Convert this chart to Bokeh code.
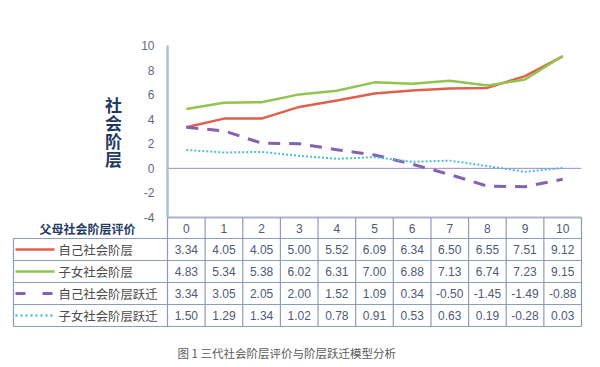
from bokeh.plotting import figure
from bokeh.models import Range1d
from bokeh.core.properties import value
from bokeh.embed import file_html
from bokeh.resources import INLINE

# ---------------- data ----------------
categories = [0, 1, 2, 3, 4, 5, 6, 7, 8, 9, 10]
self_rank = [3.34, 4.05, 4.05, 5.00, 5.52, 6.09, 6.34, 6.50, 6.55, 7.51, 9.12]
child_rank = [4.83, 5.34, 5.38, 6.02, 6.31, 7.00, 6.88, 7.13, 6.74, 7.23, 9.15]
self_mob = [3.34, 3.05, 2.05, 2.00, 1.52, 1.09, 0.34, -0.50, -1.45, -1.49, -0.88]
child_mob = [1.50, 1.29, 1.34, 1.02, 0.78, 0.91, 0.53, 0.63, 0.19, -0.28, 0.03]
series_names = ["自己社会阶层", "子女社会阶层", "自己社会阶层跃迁", "子女社会阶层跃迁"]
y_ticks = [-4, -2, 0, 2, 4, 6, 8, 10]
x_title = "父母社会阶层评价"
y_title = "社会阶层"
caption = "图 1 三代社会阶层评价与阶层跃迁模型分析"

series = [self_rank, child_rank, self_mob, child_mob]

# ---------------- styles ----------------
colors = ["#e0604d", "#92c450", "#8462b0", "#4cbfd6"]
widths = [2.5, 2.5, 3, 2]
dashes = ["solid", "solid", "12 9", "2 2"]
key_dashes = ["solid", "solid", "10 17", "2 3"]
border_c = "#8d9cb8"
axis_c = "#b3bdd1"
num_c = "#4d5a78"
navy = "#1f3b63"
CJK = "Noto Sans CJK SC"
NUM = "Liberation Sans"

W, H = 600, 367
OFF = 0                                  # observed page offset of the canvas
PLOT_L, PLOT_R = 167, 581                # page px of the plot area
PLOT_T, PLOT_B = 45, 217
COLW = (PLOT_R - PLOT_L) / len(categories)
YPX = (PLOT_B - PLOT_T) / (y_ticks[-1] - y_ticks[0])


def px2x(px):
    return (px - PLOT_L) / COLW - 0.5


def py2v(py):
    return y_ticks[0] + (PLOT_B - py) / YPX


p = figure(width=W, height=H,
           x_range=Range1d(px2x(OFF), px2x(OFF + W)),
           y_range=Range1d(py2v(OFF + H), py2v(OFF)),
           output_backend="svg", toolbar_location=None,
           x_axis_location=None, y_axis_location=None, min_border=0)
p.extra_y_ranges = {"tbl": Range1d(OFF + H, OFF)}   # table rows in page px
p.outline_line_color = None
p.xgrid.visible = False
p.ygrid.visible = False
p.background_fill_color = "white"
p.border_fill_color = "white"

x0 = categories[0] - 0.5
x1 = categories[-1] + 0.5

# zero line
p.segment(x0=[x0], x1=[x1], y0=[0], y1=[0], line_color="#9c8ccc", line_width=1)

# series
for vals, c, w, d in zip(series, colors, widths, dashes):
    p.line(categories, vals, line_color=c, line_width=w, line_dash=d)

# axes
p.segment(x0=[x0], x1=[x0], y0=[y_ticks[0]], y1=[y_ticks[-1]], line_color=axis_c, line_width=2.5)
p.segment(x0=[x0], x1=[x1], y0=[y_ticks[0]], y1=[y_ticks[0]], line_color="#a9b4ca", line_width=2)
p.text(x=[x0] * len(y_ticks), y=y_ticks, text=[str(t) for t in y_ticks],
       x_offset=-13, text_align="right", text_baseline="middle",
       text_font=value(NUM), text_font_size="12px", text_color="#5f6b82")

# axis titles
p.text(x=[px2x(113)], y=[131], text=["\n".join(y_title)], y_range_name="tbl",
       text_align="center", text_baseline="middle", text_line_height=0.72,
       text_font=value(CJK), text_font_size="17px", text_font_style="bold",
       text_color=navy)
p.text(x=[px2x(87)], y=[227.5], text=[x_title], y_range_name="tbl",
       text_align="center", text_baseline="middle",
       text_font=value(CJK), text_font_size="12px", text_font_style="bold",
       text_color=navy)

# ---------------- table ----------------
HEAD_T, HEAD_B = 217, 238
ROWH = 22
nrows = len(series_names)
x_left = px2x(13)
row_lines = [HEAD_B + k * ROWH for k in range(nrows + 1)]
p.segment(x0=[x_left] * len(row_lines), x1=[x1] * len(row_lines),
          y0=row_lines, y1=row_lines, line_color=border_c, line_width=1.2, y_range_name="tbl")
col_lines = [c - 0.5 for c in categories] + [x1]
p.segment(x0=col_lines, x1=col_lines, y0=[HEAD_T] * len(col_lines),
          y1=[row_lines[-1]] * len(col_lines), line_color=border_c, line_width=1.2,
          y_range_name="tbl")
p.segment(x0=[x_left], x1=[x_left], y0=[HEAD_B], y1=[row_lines[-1]],
          line_color=border_c, line_width=1.2, y_range_name="tbl")

# header labels
p.text(x=categories, y=[(HEAD_T + HEAD_B) / 2 + 0.5] * len(categories),
       text=[str(c) for c in categories], y_range_name="tbl",
       text_align="center", text_baseline="middle",
       text_font=value(NUM), text_font_size="12px", text_color=num_c)

for i, (name, vals) in enumerate(zip(series_names, series)):
    yc = HEAD_B + (i + 0.5) * ROWH
    p.line([px2x(15), px2x(54)], [yc, yc], line_color=colors[i], y_range_name="tbl",
           line_width=[2.5, 2.5, 3, 2.5][i], line_dash=key_dashes[i])
    p.text(x=[px2x(58)], y=[yc], text=[name], text_align="left", text_baseline="middle",
           text_font=value(CJK), text_font_size="12.4px", text_color="#4a4a4a",
           y_range_name="tbl")
    p.text(x=categories, y=[yc] * len(categories), text=[f"{v:.2f}" for v in vals],
           text_align="center", text_baseline="middle", y_range_name="tbl",
           text_font=value(NUM), text_font_size="12px", text_color=num_c)

p.text(x=[px2x(177)], y=[352], text=[caption], text_align="left", text_baseline="middle",
       text_font=value(CJK), text_font_size="11.5px", text_color="#5a5a5a",
       y_range_name="tbl")

open("out.html", "w").write(file_html(p, INLINE))
